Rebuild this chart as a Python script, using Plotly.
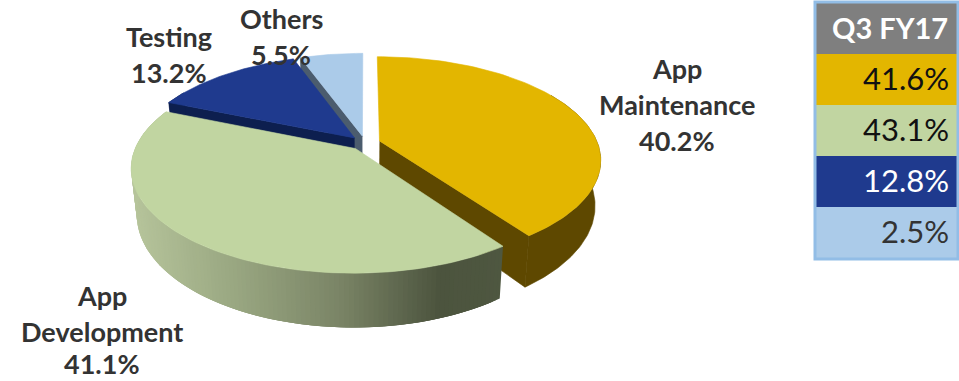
import numpy as np
import plotly.graph_objects as go

# Pie segments, clockwise from twelve o'clock
segments = ["App Maintenance", "App Development", "Testing", "Others"]
shares = [40.2, 41.1, 13.2, 5.5]
top_colors = ["#e3b600", "#c1d5a1", "#1f3a8e", "#abcbe9"]
side_colors = ["#5e4800", None, "#0d1f4f", "#4b5c6e"]
paint_order = [3, 2, 0, 1]

# Pie labels, one entry per text line
label_lines = ["App", "Maintenance", "40.2%", "App", "Development", "41.1%",
               "Testing", "13.2%", "Others", "5.5%"]
label_x = [677, 677, 677, 102, 102, 102, 169, 169, 281, 281]
label_y = [68, 104, 140, 295, 331, 363.5, 36, 72, 18, 54]

# Side table
table_header = "Q3 FY17"
table_values = ["41.6%", "43.1%", "12.8%", "2.5%"]
table_fills = ["#e3b600", "#c1d5a1", "#1f3a8e", "#abcbe9"]
table_text = ["#111111", "#111111", "#ffffff", "#333333"]
table_text_y = [78, 129, 180, 231]

# Perspective model of the tilted disc
CX, CY = 365, 143
A, B = 218, 100
PERSP = 0.18
THICK = 44
TAPER = 0.024
EXPLODE = 0.07


def project(px, py, z=0.0):
    s = 1 / (1 - PERSP * py)
    return CX + A * px * s * (1 - TAPER * z), CY + (B * py + THICK * z) * s


def ring(a0, a1, off, z=0.0, n=90):
    t = np.linspace(a0, a1, n)
    return project(off[0] + np.sin(t), off[1] - np.cos(t), z)


def blend(c0, c1, f):
    return tuple(c0[i] + (c1[i] - c0[i]) * f for i in range(3))


def side_shade(x):
    # Horizontal shading of the green outer wall
    stops = [(132, (182, 196, 155)), (230, (154, 168, 130)), (340, (122, 132, 102)),
             (440, (76, 84, 62)), (505, (78, 87, 64))]
    for (x0, c0), (x1, c1) in zip(stops, stops[1:]):
        if x <= x1:
            r, g, b = blend(c0, c1, max(0, (x - x0) / (x1 - x0)))
            return f"rgb({r:.0f},{g:.0f},{b:.0f})"
    r, g, b = stops[-1][1]
    return f"rgb({r},{g},{b})"


def poly(fig, xs, ys, color, edge=0.6):
    fig.add_trace(go.Scatter(x=list(xs), y=list(ys), mode="lines", fill="toself",
                             fillcolor=color, line=dict(color=color, width=edge),
                             hoverinfo="skip", showlegend=False))


fig = go.Figure()
edges = np.cumsum([0] + shares) / sum(shares) * 2 * np.pi

for i in paint_order:
    a0, a1 = edges[i], edges[i + 1]
    mid = (a0 + a1) / 2
    off = (EXPLODE * np.sin(mid), -EXPLODE * np.cos(mid))

    # Cut faces turned towards the viewer
    if side_colors[i]:
        faces = [a for a in (a0, a1) if 0.5 * np.pi < a < np.pi or (a == a0 and a > 1.5 * np.pi)]
        for ang in faces:
            ox, oy = project(off[0] + np.sin(ang), off[1] - np.cos(ang))
            ox2, oy2 = project(off[0] + np.sin(ang), off[1] - np.cos(ang), 1)
            ax, ay = project(*off)
            ax2, ay2 = project(*off, 1)
            poly(fig, [ax, ox, ox2, ax2], [ay, oy, oy2, ay2], side_colors[i])

    # Outer wall, only along the part of the rim facing the viewer;
    # shaded strips overlap so no seams show between them
    w0, w1 = max(a0, np.pi / 3), min(a1, 5 * np.pi / 3)
    if w1 > w0:
        if side_colors[i]:
            xt, yt = ring(w0, w1, off)
            xb, yb = ring(w0, w1, off, 1)
            poly(fig, np.r_[xt, xb[::-1]], np.r_[yt, yb[::-1]], side_colors[i])
        else:
            xt, yt = ring(w0, w1, off, n=140)
            xb, yb = ring(w0, w1, off, 1, n=140)
            for k in range(len(xt) - 1):
                j = min(k + 3, len(xt) - 1)
                poly(fig, [xt[k], xt[j], xb[j], xb[k]], [yt[k], yt[j], yb[j], yb[k]],
                     side_shade((xt[k] + xt[k + 1]) / 2), edge=0)

    # Top surface
    xt, yt = ring(a0, a1, off)
    ax, ay = project(*off)
    poly(fig, np.r_[ax, xt, ax], np.r_[ay, yt, ay], top_colors[i])

for text, x, y in zip(label_lines, label_x, label_y):
    fig.add_annotation(x=x, y=y, text=f"<b>{text}</b>", showarrow=False,
                       xanchor="center", yanchor="middle",
                       font=dict(family="Lato", size=27, color="#333333"))

# Table body holds the fills; its text is placed so it sits mid-row
fig.add_trace(go.Table(
    domain=dict(x=[816 / 959, 957 / 959], y=[1 - 258 / 381, 1 - 3 / 381]),
    columnwidth=[1],
    header=dict(values=[""], height=51, fill_color="#7f7f7f",
                line=dict(color="#7f7f7f", width=0)),
    cells=dict(values=[[""] * len(table_values)], height=51,
               fill_color=[table_fills], line=dict(color="#abcbe9", width=0)),
))
fig.add_annotation(x=890, y=27, text=f"<b>{table_header}</b>", showarrow=False,
                   xanchor="center", yanchor="middle",
                   font=dict(family="Lato", size=29, color="#ffffff"))
for text, color, y in zip(table_values, table_text, table_text_y):
    fig.add_annotation(x=951, y=y, text=text, showarrow=False,
                       xanchor="right", yanchor="middle",
                       font=dict(family="Lato", size=31, color=color))
fig.add_shape(type="rect", x0=815, x1=958, y0=2, y1=259,
              line=dict(color="#92bde6", width=3))

fig.update_xaxes(range=[0, 959], visible=False, fixedrange=True)
fig.update_yaxes(range=[381, 0], visible=False, fixedrange=True)
fig.update_layout(width=959, height=381, margin=dict(l=0, r=0, t=0, b=0),
                  paper_bgcolor="#ffffff", plot_bgcolor="#ffffff", showlegend=False)
fig.write_html("out.html", config=dict(displayModeBar=False))
